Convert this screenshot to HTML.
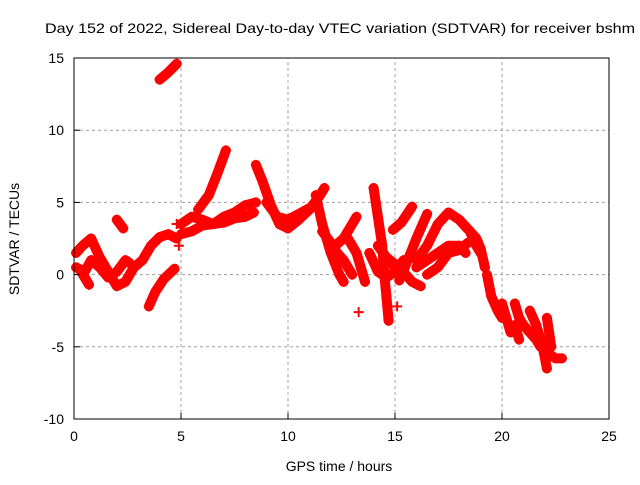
<!DOCTYPE html>
<html><head><meta charset="utf-8"><style>
body{margin:0;background:#fff;width:640px;height:480px;overflow:hidden}
text{font-family:"Liberation Sans",sans-serif;font-size:14px;fill:#000}
</style></head><body>
<svg id="chart" width="640" height="480">
<text x="45" y="33" textLength="590" lengthAdjust="spacingAndGlyphs">Day 152 of 2022, Sidereal Day-to-day VTEC variation (SDTVAR) for receiver bshm</text>
<text x="339" y="471" text-anchor="middle">GPS time / hours</text>
<text transform="translate(19,239) rotate(-90)" text-anchor="middle">SDTVAR / TECUs</text>
<g id="grid"></g><g id="marks"></g>
<rect x="74" y="58" width="535" height="361" fill="none" stroke="#000"/>
<g id="ticks"></g>
</svg>
<script>
const xTicks=[0,5,10,15,20,25];
const yTicks=[-10,-5,0,5,10,15];
const tracks=[
[[0.1,1.5],[0.4,2],[0.8,2.5],[1.2,1.2],[1.6,0.2],[2,-0.8],[2.4,-0.5],[2.8,0.5],[3.2,1],[3.6,2],[4,2.6],[4.4,2.8],[4.8,2.5]],
[[0.1,0.5],[0.5,0.2],[0.8,1],[1.2,0.5],[1.6,-0.2],[2.0,0.2],[2.4,1],[2.6,0.8]],
[[0.3,0.3],[0.5,-0.2],[0.7,-0.7]],
[[2,3.8],[2.3,3.2]],
[[3.5,-2.2],[3.8,-1.2],[4.2,-0.3],[4.7,0.4]],
[[4.0,13.5],[4.4,14],[4.8,14.6]],
[[5.8,4.5],[6.3,5.5],[6.7,7],[7.1,8.6]],
[[5,3.5],[5.5,4],[6,3.8],[6.5,3.5],[7,4],[7.5,4.3],[8,4.8],[8.5,5]],
[[5,2.8],[5.5,3],[6,3.4],[7,3.6],[7.5,3.9],[8,4],[8.4,4.3]],
[[8.5,7.6],[8.8,6.5],[9.2,4.8],[9.6,3.5],[10,3.2],[10.5,3.8],[11,4.5],[11.5,5.5],[11.7,6]],
[[9.0,5],[9.5,4],[10,3.8],[10.5,4.2],[11,4.6]],
[[11.3,5.5],[11.6,3.5],[12,1.5],[12.4,0],[12.6,-0.5]],
[[11.6,3],[12,2.2],[12.3,1.5],[12.6,1.0],[13,0]],
[[12.2,2],[12.6,2.5],[13,3.5],[13.2,4]],
[[12.8,2.5],[13.2,1.5],[13.4,0.5],[13.6,-0.5]],
[[14.0,6],[14.2,4],[14.4,2],[14.5,0],[14.6,-1.5],[14.7,-3.2]],
[[13.8,1.5],[14.2,0.2],[14.6,-0.2],[15,0.2],[15.4,1]],
[[14.2,2],[14.6,1.2],[15,0.5],[15.3,0]],
[[14.9,3.1],[15.3,3.6],[15.8,4.7]],
[[15.2,-0.4],[15.6,1],[16,2.5],[16.5,4.2]],
[[14.6,1.2],[15.2,0.5],[15.8,-0.5],[16.2,-0.8]],
[[16,1],[16.5,2],[17,3.5],[17.5,4.3],[18,3.8],[18.5,3],[18.8,2],[19,1.5]],
[[16,0.5],[16.5,1],[17,1.5],[17.5,2],[18,2],[18.3,1.5]],
[[16.5,0],[17,0.5],[17.5,1.5],[18,1.7],[18.4,2.2]],
[[18.5,3],[18.8,2.5],[19,1.8],[19.2,0.5]],
[[19.3,0],[19.5,-1.5],[19.8,-2.5],[20,-3]],
[[20,-2],[20.2,-3],[20.4,-4],[20.6,-3.5],[20.8,-4.5]],
[[20.6,-2],[20.8,-3],[21,-3.5],[21.3,-4],[21.6,-4.5],[21.8,-5]],
[[21.3,-2.5],[21.6,-3.5],[21.9,-5],[22.1,-6.5]],
[[22.1,-3],[22.2,-4],[22.3,-5]],
[[22.2,-5.5],[22.5,-5.8],[22.8,-5.8]],
[[13.3,-2.6]],[[15.1,-2.2]],[[4.8,3.5]],[[4.9,2]]
];
const NS='http://www.w3.org/2000/svg';
const X0=74,X1=609,Y0=419,Y1=58;
function sx(t){return X0+(t-0)/(25-0)*(X1-X0);}
function sy(v){return Y0-(v+10)/(25)*(Y0-Y1);}
function mk(tag,attrs,parent){const e=document.createElementNS(NS,tag);for(const k in attrs)e.setAttribute(k,attrs[k]);parent.appendChild(e);return e;}
const grid=document.getElementById('grid'),ticks=document.getElementById('ticks'),marks=document.getElementById('marks');
xTicks.forEach(t=>{
 if(t>0&&t<25){const g=mk('line',{x1:sx(t),x2:sx(t),y1:Y0,y2:Y1,stroke:'#a0a0a0','stroke-dasharray':'3,3'},grid);
 
 }
 const l=mk('text',{x:sx(t),y:Y0+22,'text-anchor':'middle'},ticks);l.textContent=t;
 
 
 mk('line',{x1:sx(t),x2:sx(t),y1:Y0,y2:Y0-6,stroke:'#000'},ticks);
});
yTicks.forEach(v=>{
 if(v>-10&&v<15){const g=mk('line',{x1:X0,x2:X1,y1:sy(v),y2:sy(v),stroke:'#a0a0a0','stroke-dasharray':'3,3'},grid);
 
 }
 const l=mk('text',{x:X0-10,y:sy(v)+5,'text-anchor':'end'},ticks);l.textContent=v;
 
 
 mk('line',{x1:X0,x2:X0+6,y1:sy(v),y2:sy(v),stroke:'#000'},ticks);
});
tracks.forEach(tr=>{
 const d=tr.map((p,i)=>(i?'L':'M')+sx(p[0]).toFixed(1)+','+sy(p[1]).toFixed(1)).join(' ');
 if(tr.length>1){const pl=mk('path',{d:d,fill:'none',stroke:'#ff0000','stroke-width':10,'stroke-linejoin':'round','stroke-linecap':'round'},marks);
 
 }
 tr.forEach(p=>{
  const x=sx(p[0]),y=sy(p[1]);
  const m=mk('path',{d:`M${x-5},${y}H${x+5}M${x},${y-5}V${y+5}`,stroke:'#ff0000','stroke-width':2},marks);
  
  
 });
});
</script>
</body></html>
